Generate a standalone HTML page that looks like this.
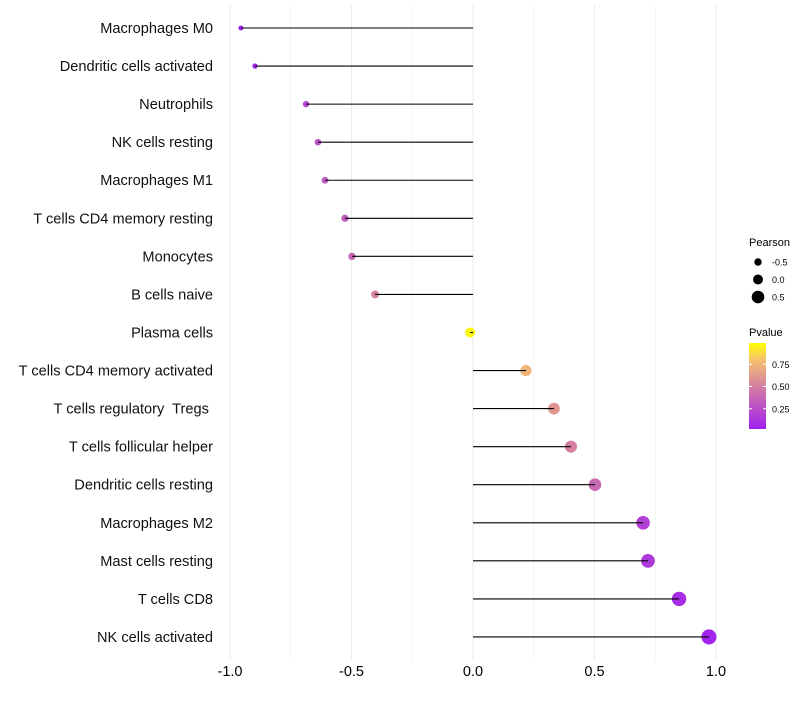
<!DOCTYPE html>
<html><head><meta charset="utf-8"><style>
body{margin:0;background:#fff;font-family:"Liberation Sans",sans-serif;}
svg text{font-family:"Liberation Sans",sans-serif;white-space:pre;}
</style></head><body>
<svg id="c" width="800" height="700"></svg>
<script>
const categories=["Macrophages M0","Dendritic cells activated","Neutrophils","NK cells resting","Macrophages M1","T cells CD4 memory resting","Monocytes","B cells naive","Plasma cells","T cells CD4 memory activated","T cells regulatory  Tregs ","T cells follicular helper","Dendritic cells resting","Macrophages M2","Mast cells resting","T cells CD8","NK cells activated"];
const pearson=[-0.955,-0.897,-0.687,-0.638,-0.609,-0.527,-0.498,-0.403,-0.012,0.218,0.333,0.403,0.502,0.700,0.720,0.848,0.971];
const pvalues=[0.02,0.04,0.22,0.27,0.3,0.32,0.36,0.5,0.98,0.75,0.6,0.5,0.38,0.16,0.13,0.06,0.02];
const xTicks=[-1,-0.5,0,0.5,1];
const xTickLabels=["-1.0","-0.5","0.0","0.5","1.0"];
const sizeLegend=[-0.5,0,0.5];
const colorLegend=[0.25,0.5,0.75];

const NS="http://www.w3.org/2000/svg";
const svg=document.getElementById('c');
function mk(t,a,p){const e=document.createElementNS(NS,t);for(const k in a)e.setAttribute(k,a[k]);(p||svg).appendChild(e);return e;}
const x=v=>473+v*243;
const y=i=>28+i*38.06;
const r=v=>5+2.6*v;
function col(p){
  const stops=[[0,[160,32,240]],[0.5,[213,128,160]],[0.8,[245,192,112]],[1,[255,255,0]]];
  for(let i=1;i<stops.length;i++){if(p<=stops[i][0]){const a=stops[i-1],b=stops[i];const t=(p-a[0])/(b[0]-a[0]);
  return 'rgb('+a[1].map((c,j)=>Math.round(c+(b[1][j]-c)*t)).join(',')+')';}}
  return 'rgb(255,255,0)';
}
for(let v=-1;v<=1.001;v+=0.25){
  const g=mk('line',{x1:x(v),x2:x(v),y1:5,y2:660,stroke:'#ebebeb','stroke-width':Math.abs(v*2-Math.round(v*2))<0.01?1:0.5});
  
}
xTicks.forEach((v,i)=>{
  const t=mk('text',{x:x(v),y:676,'text-anchor':'middle','font-size':14.5,fill:'#000'});t.textContent=xTickLabels[i];
  
});
categories.forEach((c,i)=>{
  const t=mk('text',{x:213,y:y(i)+5,'text-anchor':'end','font-size':14.6,fill:'#111'});t.textContent=c;
  
  const d=mk('circle',{cx:x(pearson[i]),cy:y(i),r:r(pearson[i]),fill:col(pvalues[i])});
  
  const l=mk('line',{x1:x(0),x2:x(pearson[i]),y1:y(i),y2:y(i),stroke:'#000','stroke-width':1.1});
  
});
let t=mk('text',{x:749,y:246,'font-size':11});t.textContent='Pearson';

sizeLegend.forEach((v,i)=>{
  const cy=262+i*17.5;
  const c=mk('circle',{cx:758,cy:cy,r:r(v),fill:'#000'});
  
  const tt=mk('text',{x:772,y:cy+3.5,'font-size':9});tt.textContent=v===0?'0.0':String(v);
  
});
t=mk('text',{x:749,y:336,'font-size':11});t.textContent='Pvalue';

const defs=mk('defs',{});const lg=mk('linearGradient',{id:'g',x1:0,y1:1,x2:0,y2:0},defs);
[0,0.25,0.5,0.65,0.8,1].forEach(p=>mk('stop',{offset:p,'stop-color':col(p)},lg));
const cb=mk('rect',{x:749,y:343,width:17,height:86,fill:'url(#g)'});

const cy=p=>431-p*89;
colorLegend.forEach(p=>{
  mk('line',{x1:749,x2:752,y1:cy(p),y2:cy(p),stroke:'#fff'});mk('line',{x1:763,x2:766,y1:cy(p),y2:cy(p),stroke:'#fff'});
  const tt=mk('text',{x:772,y:cy(p)+3.5,'font-size':9});tt.textContent=p.toFixed(2);
  
});
</script>
</body></html>
